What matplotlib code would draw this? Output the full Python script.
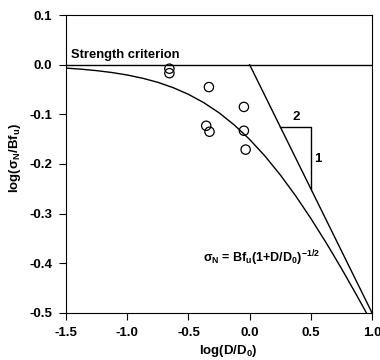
import matplotlib
matplotlib.use("Agg")
import matplotlib.pyplot as plt

plt.rcParams['font.family'] = ['Liberation Sans', 'DejaVu Sans']
plt.rcParams['mathtext.fontset'] = 'custom'
plt.rcParams['mathtext.rm'] = 'Liberation Sans:bold'
plt.rcParams['mathtext.it'] = 'Liberation Sans:bold'
plt.rcParams['mathtext.bf'] = 'Liberation Sans:bold'

# Size-effect curve
curve_x = [-1.5, -1.375, -1.25, -1.125, -1.0, -0.875, -0.75, -0.625, -0.5, -0.375,
           -0.25, -0.125, 0.0, 0.125, 0.25, 0.375, 0.5, 0.625, 0.75, 0.875, 1.0]
curve_y = [-0.0068, -0.0090, -0.0119, -0.0157, -0.0207, -0.0272, -0.0355, -0.0462,
           -0.0597, -0.0764, -0.0969, -0.1215, -0.1505, -0.1840, -0.2219, -0.2639,
           -0.3097, -0.3587, -0.4105, -0.4647, -0.5207]

# LEFM asymptote (slope -1/2)
asym_x = [0.0, 1.0]
asym_y = [0.0, -0.5]

# Strength criterion
strength_y = 0.0

# Test data
data_x = [-0.656, -0.656, -0.333, -0.047, -0.355, -0.328, -0.047, -0.033]
data_y = [-0.008, -0.017, -0.045, -0.085, -0.123, -0.135, -0.133, -0.171]

# Slope triangle
tri_x = [0.25, 0.5, 0.5]
tri_y = [-0.125, -0.125, -0.25]

xticks = [-1.5, -1.0, -0.5, 0.0, 0.5, 1.0]
yticks = [0.1, 0.0, -0.1, -0.2, -0.3, -0.4, -0.5]

fig = plt.figure(figsize=(3.8, 3.6), dpi=100)
ax = fig.add_axes([0.174, 0.131, 0.805, 0.827])

ax.plot(curve_x, curve_y, color='black', lw=1.0)
ax.plot(asym_x, asym_y, color='black', lw=1.0)
ax.axhline(strength_y, color='black', lw=1.0)
ax.plot(tri_x, tri_y, color='black', lw=1.0)
ax.scatter(data_x, data_y, s=45, facecolors='none', edgecolors='black', linewidths=0.9, zorder=3)

ax.text(-1.46, 0.008, 'Strength criterion', fontsize=9.4, fontweight='bold', ha='left', va='bottom')
ax.text(0.38, -0.118, '2', fontsize=9.5, fontweight='bold', ha='center', va='bottom')
ax.text(0.53, -0.19, '1', fontsize=9.5, fontweight='bold', ha='left', va='center')
ax.text(0.10, -0.39, r'$\sigma_N$ = Bf$_u$(1+D/D$_0$)$^{-1/2}$', fontsize=9, fontweight='bold',
        ha='center', va='center')

ax.set_xlim(-1.5, 1.0)
ax.set_ylim(-0.5, 0.1)
ax.set_xticks(xticks)
ax.set_yticks(yticks)
ax.set_xticklabels(['%.1f' % v for v in xticks])
ax.set_yticklabels(['%.1f' % v for v in yticks])
ax.tick_params(direction='out', length=5, width=0.8, labelsize=9.5)
ax.tick_params(axis='x', pad=5)
ax.tick_params(axis='y', pad=5)
for lbl in ax.get_xticklabels() + ax.get_yticklabels():
    lbl.set_fontweight('bold')

ax.set_xlabel(r'log(D/D$_0$)', fontsize=9.5, fontweight='bold')
ax.set_ylabel(r'log($\sigma_N$/Bf$_u$)', fontsize=9.5, fontweight='bold')
ax.xaxis.set_label_coords(0.53, -0.1)
ax.yaxis.set_label_coords(-0.14, 0.52)

fig.savefig('out.png', dpi=100)
